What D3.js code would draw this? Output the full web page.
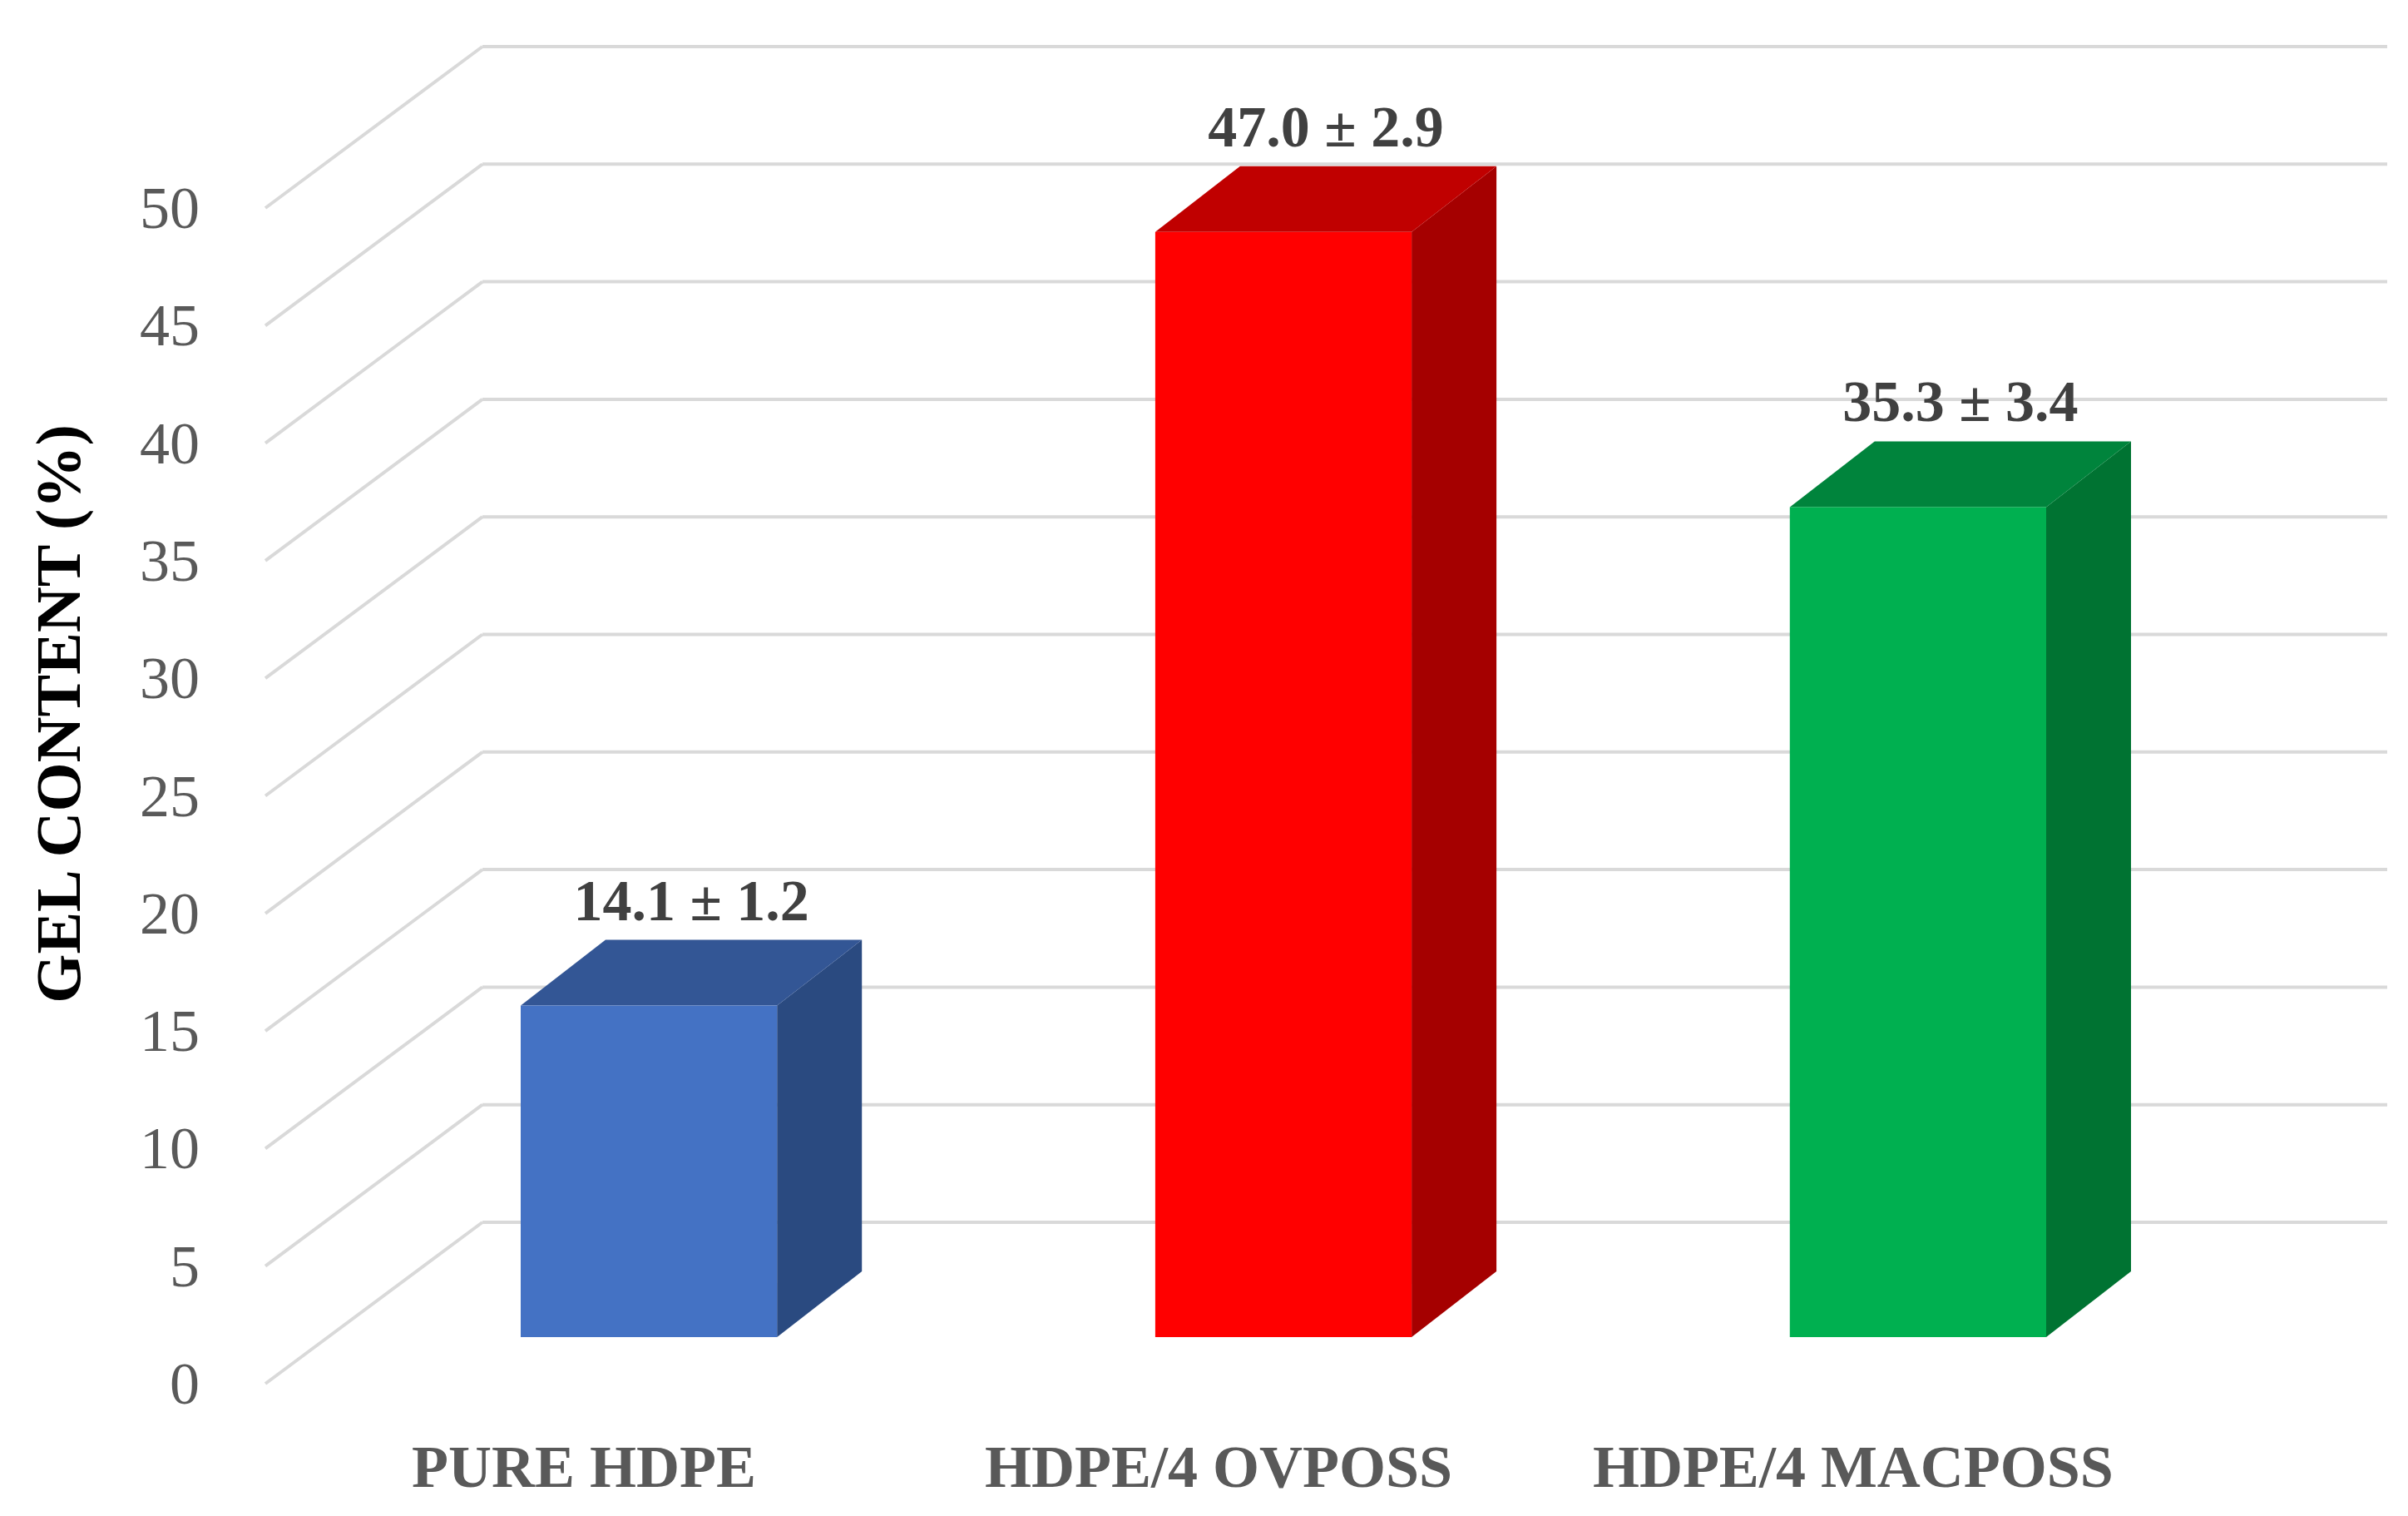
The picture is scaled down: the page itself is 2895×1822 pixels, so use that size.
<!DOCTYPE html>
<html><head><meta charset="utf-8">
<script src="https://cdn.jsdelivr.net/npm/d3@7"></script>
<style>body{margin:0;background:#fff}</style>
</head><body>
<svg id="chart" width="2895" height="1822"></svg>
<script>
var categories = ['PURE HDPE', 'HDPE/4 OVPOSS', 'HDPE/4 MACPOSS'];
var values = [14.1, 47.0, 35.3];
var errors = [1.2, 2.9, 3.4];
var yTicks = [0, 5, 10, 15, 20, 25, 30, 35, 40, 45, 50];
var frontColors = ['#4472C4', '#FF0000', '#00B050'];
var topColors = ['#335695', '#C00000', '#00843C'];
var sideColors = ['#2A4A80', '#A50000', '#007332'];

var svg = d3.select('#chart');
var font = '"Liberation Serif", "DejaVu Serif", serif';

// depth offsets for the 3d look
var dx = 102, dy = -79;
var wallDx = -261, wallDy = 194;

var yBack = d3.scaleLinear().domain([0, 50]).range([1469, 56]);
var yFront = d3.scaleLinear().domain([0, 50]).range([1607, 194]);
var x = d3.scaleBand().domain(categories).range([626, 2460]).paddingInner(0.596).paddingOuter(0);

// back wall gridlines + side wall diagonals
var grid = svg.append('g');
grid.selectAll('line.h').data(yTicks).enter().append('line')
    .attr('x1', 580).attr('x2', 2870)
    .attr('y1', function(d){ return yBack(d); }).attr('y2', function(d){ return yBack(d); })
    .attr('stroke', '#d9d9d9').attr('stroke-width', 4);
grid.selectAll('line.d').data(yTicks).enter().append('line')
    .attr('x1', 580).attr('x2', 580 + wallDx)
    .attr('y1', function(d){ return yBack(d); }).attr('y2', function(d){ return yBack(d) + wallDy; })
    .attr('stroke', '#d9d9d9').attr('stroke-width', 4);

// tick labels
svg.selectAll('text.tick').data(yTicks).enter().append('text')
    .attr('x', 240).attr('y', function(d){ return yBack(d) + wallDy + 24; })
    .attr('text-anchor', 'end').attr('font-family', font).attr('font-size', 72)
    .attr('fill', '#595959').text(function(d){ return d; });

// bars
var bars = svg.selectAll('g.bar').data(values).enter().append('g');
bars.append('path').attr('fill', function(d, i){ return sideColors[i]; })
    .attr('d', function(d, i){
        var x1 = x(categories[i]) + x.bandwidth(), yt = yFront(d), yb = yFront(0);
        return 'M' + x1 + ',' + yt + 'L' + (x1 + dx) + ',' + (yt + dy) + 'L' + (x1 + dx) + ',' + (yb + dy) + 'L' + x1 + ',' + yb + 'Z';
    });
bars.append('path').attr('fill', function(d, i){ return topColors[i]; })
    .attr('d', function(d, i){
        var x0 = x(categories[i]), x1 = x0 + x.bandwidth(), yt = yFront(d);
        return 'M' + x0 + ',' + yt + 'L' + (x0 + dx) + ',' + (yt + dy) + 'L' + (x1 + dx) + ',' + (yt + dy) + 'L' + x1 + ',' + yt + 'Z';
    });
bars.append('rect').attr('fill', function(d, i){ return frontColors[i]; })
    .attr('x', function(d, i){ return x(categories[i]); })
    .attr('y', function(d){ return yFront(d); })
    .attr('width', x.bandwidth())
    .attr('height', function(d){ return yFront(0) - yFront(d); });

// value labels
bars.append('text')
    .attr('x', function(d, i){ return x(categories[i]) + x.bandwidth() / 2 + dx / 2; })
    .attr('y', function(d){ return yFront(d) + dy - 24; })
    .attr('text-anchor', 'middle').attr('font-family', font).attr('font-size', 70)
    .attr('font-weight', 'bold').attr('fill', '#404040')
    .text(function(d, i){ return d.toFixed(1) + ' ± ' + errors[i].toFixed(1); });

// category labels
svg.selectAll('text.cat').data(categories).enter().append('text')
    .attr('x', function(d){ return x(d) + x.bandwidth() / 2 - 78; })
    .attr('y', 1787).attr('text-anchor', 'middle').attr('font-family', font)
    .attr('font-size', 72).attr('font-weight', 'bold').attr('fill', '#595959')
    .text(function(d){ return d; });

// y title
svg.append('text').attr('transform', 'translate(96,858) rotate(-90)')
    .attr('text-anchor', 'middle').attr('font-family', font).attr('font-size', 76)
    .attr('font-weight', 'bold').attr('fill', '#000').text('GEL CONTENT (%)');
</script>
</body></html>
